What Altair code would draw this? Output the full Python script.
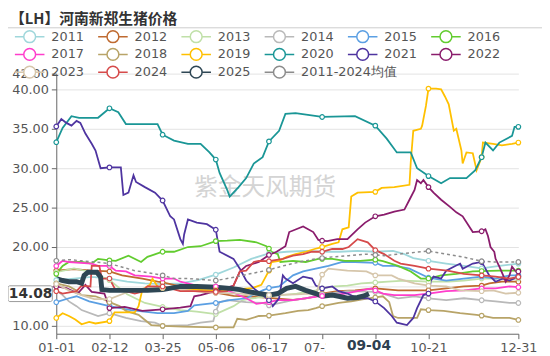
import altair as alt
import pandas as pd

# ---------------- data (day index from 01-01, price in 元/kg) ----------------
SERIES = ["2011", "2012", "2013", "2014", "2015", "2016", "2017", "2018",
          "2019", "2020", "2021", "2022", "2023", "2024", "2025", "2011-2024均值"]
COLORS = ["#9fd7db", "#bf6a30", "#c0e0a8", "#b9b9b9", "#5b9fe3", "#62cc2f",
          "#ff3dcb", "#b8a468", "#ffc000", "#1a9696", "#4e34a0", "#8a1c6c",
          "#d6c6ab", "#d64a4a", "#2e4654", "#8c8c8c"]

S2011 = [(0,15.8),(14,16.0),(28,16.2),(42,16.0),(56,15.6),(70,15.4),(84,15.3),(98,15.4),(112,15.8),(126,16.5),(140,17.4),(154,18.5),(168,19.2),(182,19.4),(196,19.5),(210,19.4),(224,19.4),(238,19.5),(252,19.4),(266,19.5),(275,19.1),(282,18.6),(294,18.25),(308,17.9),(322,17.6),(336,17.3),(350,17.6),(365,17.9)]
S2012 = [(0,17.0),(14,17.2),(28,17.0),(42,16.9),(52,16.4),(68,16.0),(80,15.6),(84,15.5),(98,15.0),(110,14.5),(126,14.2),(140,13.8),(150,13.75),(168,13.55),(187,13.3),(197,13.5),(205,13.75),(210,14.1),(222,14.4),(236,14.5),(252,14.75),(270,14.5),(294,14.5),(308,14.75),(322,15.0),(336,15.1),(342,15.4),(352,15.6),(365,15.6)]
S2013 = [(0,16.8),(14,17.3),(28,16.8),(42,15.8),(56,14.0),(70,12.9),(84,12.4),(98,12.0),(111,11.8),(126,11.5),(140,12.5),(147,13.25),(160,13.6),(168,13.75),(178,13.9),(190,14.1),(205,14.5),(210,14.75),(220,15.0),(230,15.1),(241,15.4),(252,15.5),(262,15.6),(275,15.75),(294,15.6),(310,15.6),(322,15.75),(336,16.0),(350,16.0),(365,16.0)]
S2014 = [(0,14.5),(5,13.9),(10,13.1),(16,12.5),(20,12.0),(33,11.25),(42,11.6),(55,11.0),(67,10.6),(78,10.4),(84,10.0),(104,10.1),(114,10.4),(124,10.6),(126,11.8),(129,13.0),(135,13.25),(150,13.0),(163,12.9),(168,12.6),(187,13.25),(197,13.5),(210,14.0),(230,14.4),(252,14.3),(258,14.1),(270,13.5),(283,13.75),(294,13.5),(308,13.25),(322,13.5),(336,13.25),(347,13.1),(358,12.9),(365,12.9)]
S2015 = [(0,13.0),(10,13.5),(16,13.75),(26,13.1),(42,12.5),(59,12.0),(80,11.6),(93,11.6),(104,11.9),(109,12.6),(126,12.9),(137,13.25),(150,13.5),(163,14.5),(168,14.8),(176,15.0),(187,16.4),(195,16.9),(205,17.25),(215,17.6),(226,18.1),(236,18.1),(252,18.0),(258,17.6),(268,17.6),(279,17.25),(294,16.1),(308,15.75),(322,16.0),(336,16.25),(347,16.0),(358,16.4),(365,16.4)]
S2016 = [(0,16.6),(5,17.6),(10,18.1),(20,18.1),(28,17.9),(33,18.5),(42,18.3),(47,18.25),(57,18.9),(67,18.1),(72,18.75),(84,19.4),(93,19.4),(104,20.0),(114,20.1),(126,20.75),(135,20.8),(145,20.9),(158,20.6),(166,20.1),(168,19.8),(170,19.4),(175,19.1),(177,18.1),(187,18.25),(197,18.1),(207,18.5),(210,18.5),(218,18.5),(228,18.25),(240,18.25),(252,18.4),(258,18.2),(270,17.6),(280,16.9),(288,16.0),(294,16.0),(304,16.4),(316,16.6),(329,16.9),(336,16.95),(350,17.0),(365,17.0)]
S2017 = [(0,17.6),(5,18.25),(10,18.1),(28,17.9),(33,17.6),(42,17.6),(47,17.0),(55,16.9),(62,16.4),(75,16.25),(84,16.0),(93,16.0),(98,15.6),(111,15.1),(126,15.0),(140,14.2),(150,13.5),(158,12.8),(168,13.0),(175,13.25),(187,13.25),(207,13.75),(210,13.8),(218,13.9),(228,14.1),(238,14.4),(249,14.75),(252,14.5),(258,14.1),(267,13.9),(283,13.9),(294,14.1),(308,14.4),(322,14.5),(336,14.75),(347,14.75),(358,15.0),(365,14.9)]
S2018 = [(0,15.4),(10,15.0),(16,14.5),(20,13.9),(31,13.75),(39,13.25),(42,13.0),(50,12.5),(55,11.9),(65,11.4),(75,10.1),(84,10.0),(100,9.9),(126,9.8),(140,9.8),(143,10.9),(150,10.75),(160,11.25),(168,11.3),(181,11.6),(191,11.9),(199,12.0),(205,12.25),(210,12.5),(223,12.9),(233,13.1),(243,13.4),(252,13.6),(258,13.75),(263,13.0),(266,11.25),(270,11.0),(285,11.0),(288,12.1),(294,12.0),(306,11.9),(319,11.6),(332,11.4),(336,11.3),(345,11.0),(358,11.0),(365,10.75)]
S2019 = [(0,11.0),(5,11.6),(10,11.25),(15,10.8),(20,10.2),(26,10.5),(31,10.3),(42,10.6),(46,11.7),(62,11.7),(65,12.5),(68,14.6),(74,15.2),(76,16.0),(80,15.0),(84,14.8),(105,14.6),(126,14.5),(140,14.6),(155,14.8),(162,15.2),(166,16.4),(168,17.0),(170,18.1),(176,18.25),(182,18.75),(189,19.1),(197,19.4),(204,19.75),(210,20.0),(218,20.4),(223,20.6),(226,22.25),(231,22.5),(233,26.4),(238,26.9),(252,27.0),(257,27.5),(267,27.6),(279,27.9),(280,30.75),(282,34.75),(288,35.0),(289,35.4),(292,37.9),(294,40.1),(300,40.1),(304,40.0),(307,39.1),(310,38.1),(314,34.75),(316,35.0),(320,32.25),(321,30.6),(324,32.0),(329,31.9),(332,29.75),(336,31.4),(337,33.25),(345,33.1),(352,32.9),(360,33.1),(365,33.25)]
S2020 = [(0,33.3),(5,35.1),(12,36.6),(18,36.4),(33,36.4),(42,37.6),(49,37.1),(55,35.6),(80,35.6),(84,34.25),(93,33.5),(104,33.1),(114,33.1),(121,32.0),(126,31.1),(129,29.4),(135,27.25),(137,26.4),(144,27.6),(150,28.75),(156,30.6),(163,31.4),(168,33.4),(176,34.75),(181,36.9),(189,37.0),(210,36.5),(236,36.6),(252,35.4),(261,33.75),(269,32.0),(280,32.0),(285,30.0),(294,29.0),(304,28.1),(311,28.75),(324,28.75),(331,29.75),(336,31.4),(339,33.25),(345,32.25),(350,33.25),(360,34.1),(362,35.25),(365,35.25)]
S2021 = [(0,35.3),(4,36.25),(8,35.75),(12,35.4),(16,36.0),(19,35.75),(23,34.4),(28,33.1),(31,32.25),(35,30.0),(42,30.1),(51,30.1),(53,26.6),(57,26.9),(61,29.1),(63,28.25),(70,27.6),(78,26.9),(84,25.9),(90,23.9),(93,23.5),(98,21.0),(100,20.4),(101,21.6),(104,23.5),(111,23.1),(119,22.9),(126,22.2),(129,19.4),(140,18.5),(145,17.25),(150,15.75),(156,14.75),(163,13.9),(168,13.25),(171,12.5),(176,13.5),(179,16.4),(181,16.0),(187,15.4),(195,16.25),(202,16.0),(205,15.1),(210,14.75),(218,15.0),(223,14.4),(230,14.1),(238,13.5),(246,13.5),(252,13.1),(259,12.25),(265,11.25),(269,10.4),(277,10.1),(282,11.0),(285,12.25),(290,13.9),(294,14.1),(296,15.75),(298,16.25),(304,16.0),(308,17.0),(314,17.5),(319,17.9),(321,17.25),(329,17.9),(336,18.1),(342,16.4),(347,15.6),(353,16.0),(358,15.75),(365,16.25)]
S2022 = [(0,15.0),(8,14.8),(17,14.1),(23,15.2),(28,14.3),(38,14.1),(42,12.25),(54,12.4),(68,11.9),(84,12.1),(98,12.3),(106,12.5),(109,13.75),(114,13.9),(126,14.4),(140,15.1),(145,16.9),(150,17.6),(160,18.1),(168,19.0),(174,19.4),(181,20.1),(184,21.9),(195,22.6),(203,21.9),(207,20.9),(210,20.8),(214,20.75),(222,21.0),(230,21.0),(238,22.25),(244,23.1),(252,23.9),(259,24.1),(267,24.5),(275,24.75),(279,26.0),(283,27.25),(285,28.5),(288,28.1),(290,28.5),(294,27.6),(298,26.9),(304,26.0),(311,25.1),(316,24.4),(321,23.9),(329,21.9),(336,22.0),(339,22.25),(341,21.4),(343,20.0),(346,19.4),(347,18.5),(350,17.5),(353,16.4),(355,15.6),(358,16.4),(360,17.5),(363,16.9),(365,16.9)]
S2023 = [(0,15.3),(10,14.5),(20,13.9),(30,13.4),(42,13.4),(55,14.2),(70,14.8),(84,14.8),(100,14.6),(115,14.3),(126,14.2),(145,14.1),(160,13.9),(168,13.9),(190,14.0),(200,14.1),(205,13.9),(210,16.5),(215,17.25),(230,17.0),(245,16.9),(252,16.4),(265,16.4),(270,16.0),(283,15.4),(294,15.1),(308,15.0),(319,14.5),(336,14.4),(345,14.5),(355,14.1),(365,14.2)]
S2024 = [(0,14.4),(5,14.1),(16,14.4),(20,15.1),(27,15.0),(28,17.6),(34,17.6),(36,16.0),(42,16.0),(47,14.5),(55,14.4),(62,14.1),(67,14.3),(72,15.0),(84,15.0),(98,14.4),(108,14.4),(126,14.3),(135,14.4),(140,15.1),(145,16.9),(150,17.0),(156,18.1),(160,18.25),(168,18.2),(179,18.5),(187,18.9),(195,19.1),(202,19.4),(210,19.4),(218,19.75),(226,19.75),(231,20.0),(238,21.0),(246,20.6),(252,19.6),(259,19.1),(267,18.25),(272,17.9),(283,17.6),(294,17.25),(309,17.0),(322,16.6),(336,16.4),(347,16.25),(358,16.0),(365,16.2)]
S2025 = [(0,16.0),(5,15.75),(10,15.6),(16,15.6),(20,15.4),(22,16.4),(25,16.8),(32,16.8),(35,16.2),(36,14.6),(42,14.5),(60,14.5),(72,14.5),(84,14.6),(98,15.0),(111,15.0),(126,14.9),(137,14.75),(145,14.6),(150,14.4),(160,14.1),(168,13.9),(175,14.1),(182,14.75),(189,15.0),(197,14.5),(205,14.1),(210,13.75),(218,13.9),(223,13.75),(230,13.5),(238,13.6),(243,13.8),(247,14.08)]
SAVG = [(0,18.25),(10,18.4),(20,18.25),(31,18.1),(42,17.9),(51,17.5),(62,17.0),(72,16.75),(84,16.4),(93,16.0),(104,16.0),(114,15.9),(126,15.75),(135,16.0),(143,16.25),(153,16.6),(168,17.1),(179,17.6),(192,18.1),(205,18.5),(210,18.6),(218,18.75),(231,18.9),(244,19.1),(252,19.0),(259,18.9),(270,19.1),(294,19.5),(308,19.1),(321,18.75),(336,18.2),(347,18.1),(358,18.1),(365,18.1)]

ALL = [S2011, S2012, S2013, S2014, S2015, S2016, S2017, S2018, S2019,
       S2020, S2021, S2022, S2023, S2024, S2025, SAVG]

TICK_DAYS = [0, 42, 84, 126, 168, 210, 252, 294, 365]
TICK_LABELS = ["01-01", "02-12", "03-25", "05-06", "06-17", "07-29", "", "10-21", "12-31"]
MARKER_DAYS = [0, 42, 84, 126, 168, 210, 252, 294, 336, 365]
Y_TICKS = [10, 15, 20, 25, 30, 35, 40, 42]
LAST_VALUE = 14.08
LAST_DAY = 247
LAST_LABEL = "09-04"

rows = []
for i, (name, pts) in enumerate(zip(SERIES, ALL)):
    for d, v in pts:
        rows.append({"series": name, "idx": i, "day": d, "value": v})
df = pd.DataFrame(rows)

regular = df[~df["series"].isin(["2025", "2011-2024均值"])]
thick = df[df["series"] == "2025"]
avg = df[df["series"] == "2011-2024均值"]
markers = df[df["day"].isin(MARKER_DAYS) & (df["series"] != "2025")]

W, H = 469, 264
FONT = "DejaVu Sans"

# legend layout (6 per row), positions relative to the plot origin
LEG_COLS, LEG_PITCH_X, LEG_PITCH_Y = 6, 84.5, 18
leg = pd.DataFrame({"series": SERIES})
leg["lx"] = [-27 + LEG_PITCH_X * (i % LEG_COLS) for i in range(len(SERIES))]
leg["ly"] = [-37.5 + LEG_PITCH_Y * (i // LEG_COLS) for i in range(len(SERIES))]
leg["tx"] = leg["lx"] + 22

label_expr = "{" + ",".join(f"'{d}':'{l}'" for d, l in zip(TICK_DAYS, TICK_LABELS)) + "}[datum.value]"
# the y label under the last-value marker is hidden, as in the original
ylabel_expr = f"abs(datum.value - {LAST_VALUE}) < 1.5 ? '' : format(datum.value, '.2f')"

x_enc = alt.X("day:Q", scale=alt.Scale(domain=[0, 365], nice=False, zero=False),
              axis=alt.Axis(values=TICK_DAYS, tickCount=20, labelExpr=label_expr, title=None,
                            grid=False, labelFlush=False, labelOverlap=False, labelFontSize=13,
                            labelColor="#555", labelFont=FONT, tickSize=5,
                            tickColor="#666", domainColor="#666", labelPadding=3))
y_enc = alt.Y("value:Q", scale=alt.Scale(domain=[9, 42], nice=False, zero=False),
              axis=alt.Axis(values=Y_TICKS, tickCount=20, labelExpr=ylabel_expr, title=None,
                            grid=True, gridColor="#e3e3e3", labelFontSize=13, labelColor="#555",
                            labelFont=FONT, tickSize=5, tickColor="#666",
                            labelOverlap=False, labelBound=False,
                            domainColor="#666", labelPadding=3))

color_scale = alt.Scale(domain=SERIES, range=COLORS)
SYMBOL = "M-1,0H-0.4M0.4,0H1M-0.4,0A0.4,0.4,0,1,1,0.4,0A0.4,0.4,0,1,1,-0.4,0Z"

lines = alt.Chart(regular).mark_line(strokeWidth=1.8).encode(
    x=x_enc, y=y_enc,
    color=alt.Color("series:N", scale=color_scale, legend=None),
    order=alt.Order("day:Q"))
line25 = alt.Chart(thick).mark_line(strokeWidth=5).encode(
    x=x_enc, y=y_enc, color=alt.Color("series:N", scale=color_scale, legend=None))
line_avg = alt.Chart(avg).mark_line(strokeWidth=1.5, strokeDash=[3, 3]).encode(
    x=x_enc, y=y_enc, color=alt.Color("series:N", scale=color_scale, legend=None))
points = alt.Chart(markers).mark_point(filled=True, fill="white", size=22,
                                       strokeWidth=1.2, opacity=1).encode(
    x=x_enc, y=y_enc, stroke=alt.Stroke("series:N", scale=color_scale, legend=None))

one = pd.DataFrame({"k": [0]})
water = alt.Chart(one).mark_text(text="紫金天风期货", fontSize=24, font="Noto Sans CJK SC",
                                 color="#d4d4d4", align="center", baseline="middle").encode(
    x=alt.value(212), y=alt.value(116))
box = alt.Chart(one).mark_rect(fill="white", stroke="#999", strokeWidth=1, cornerRadius=2).encode(
    x=alt.value(-49), x2=alt.value(-4), y=alt.datum(LAST_VALUE + 1.0), y2=alt.datum(LAST_VALUE - 1.0))
box_text = alt.Chart(one).mark_text(text=f"{LAST_VALUE:.2f}", fontSize=14, fontWeight="bold",
                                    font=FONT, color="#333", align="center",
                                    baseline="middle").encode(
    x=alt.value(-26), y=alt.datum(LAST_VALUE))
xbox = alt.Chart(one).mark_rect(fill="white").encode(
    x=alt.datum(213), x2=alt.datum(276), y=alt.value(270), y2=alt.value(284))
xbox_text = alt.Chart(one).mark_text(text=LAST_LABEL, fontSize=14, fontWeight="bold", font=FONT,
                                     color="#2e4050", align="center", baseline="middle").encode(
    x=alt.datum(LAST_DAY), y=alt.value(277))

data_layer = alt.layer(water, lines, line25, line_avg, points, box, box_text, xbox, xbox_text)

# chrome: title, separator, legend (pixel positions, no scales)
title = alt.Chart(one).mark_text(text="【LH】河南新郑生猪价格", align="left", baseline="middle",
                                 fontSize=15, fontWeight="bold", font="Noto Sans CJK SC",
                                 color="#333").encode(x=alt.value(-47), y=alt.value(-55.5))
sep = alt.Chart(one).mark_rule(color="#cccccc", strokeWidth=1).encode(
    x=alt.value(-49), x2=alt.value(493), y=alt.value(-46.5))
leg_sym = alt.Chart(leg).mark_point(shape=SYMBOL, size=900, filled=True, fill="white",
                                    strokeWidth=1.5, opacity=1).encode(
    x=alt.X("lx:Q", scale=None, axis=None), y=alt.Y("ly:Q", scale=None, axis=None),
    stroke=alt.Stroke("series:N", scale=color_scale, legend=None))
leg_txt = alt.Chart(leg).mark_text(align="left", baseline="middle", fontSize=13, font=FONT,
                                   color="#555").encode(
    x=alt.X("tx:Q", scale=None, axis=None), y=alt.Y("ly:Q", scale=None, axis=None),
    text="series:N")
chrome = alt.layer(title, sep, leg_sym, leg_txt)

chart = alt.layer(data_layer, chrome).resolve_scale(
    x="independent", y="independent"
).properties(
    width=W, height=H,
    padding={"left": 49, "top": 64, "right": 24, "bottom": 20},
    autosize=alt.AutoSizeParams(type="none"),
    background="white",
).configure_view(stroke=None)

chart.save("out.html", embed_options={"renderer": "svg", "actions": False})
